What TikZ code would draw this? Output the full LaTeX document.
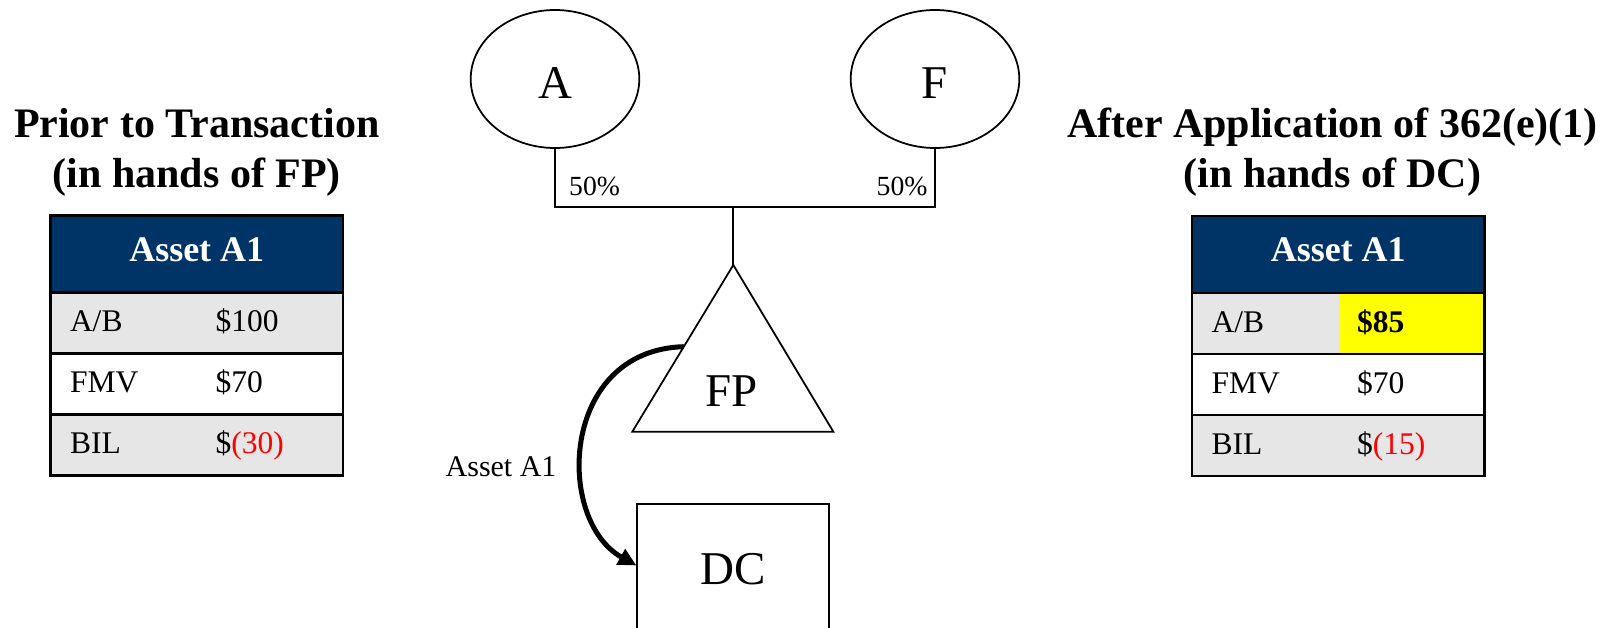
\documentclass[tikz,border=0pt]{standalone}
\usepackage{fontspec}
\setmainfont{Liberation Serif}
\usetikzlibrary{shapes.geometric,arrows.meta,calc}
\definecolor{navy}{RGB}{0,51,102}
\definecolor{rowgray}{RGB}{231,230,230}
\definecolor{hlyellow}{RGB}{255,255,0}
\definecolor{negred}{RGB}{255,0,0}
\begin{document}
\begin{tikzpicture}[x=1pt,y=-1pt,
  heading/.style={font=\fontsize{42}{50}\selectfont\bfseries, align=center, inner sep=0pt},
  entity/.style={draw, line width=1.75pt, ellipse, minimum width=168.6pt, minimum height=138pt, inner sep=0pt, font=\fontsize{47}{56}\selectfont, text height=38.6pt, text depth=0pt},
  bigtext/.style={font=\fontsize{47}{56}\selectfont, inner sep=0pt},
  dcbox/.style={draw, line width=1.75pt, minimum width=192pt, minimum height=129pt, inner sep=0pt, font=\fontsize{47}{56}\selectfont, text height=31.1pt, text depth=0pt},
  own/.style={line width=2pt},
  shapeline/.style={line width=1.75pt, line join=miter},
  pct/.style={font=\fontsize{27.7}{33}\selectfont, inner sep=0pt},
  lbl/.style={font=\fontsize{30}{36}\selectfont, inner sep=0pt},
  flow/.style={line width=5pt, -{Triangle[length=18pt,width=17pt]}},
  hdr/.style={draw, line width=2.5pt, fill=navy, text=white, font=\fontsize{36}{43}\selectfont\bfseries, minimum width=292.5pt, minimum height=77pt, inner sep=0pt, outer sep=0pt, text height=24pt, text depth=10pt, anchor=north west},
  tabrow/.style={draw, line width=2.5pt, minimum width=292.5pt, minimum height=61pt, inner xsep=19.5pt, inner ysep=0pt, outer sep=0pt, text width=253.5pt, align=left, text height=22pt, text depth=5pt, font=\fontsize{31.5}{38}\selectfont, anchor=north west},
  val/.style={font=\fontsize{31.5}{38}\selectfont, inner sep=0pt, anchor=base west},
  hlcell/.style={fill=hlyellow, anchor=north west, minimum width=144.25pt, minimum height=58.5pt, inner xsep=18pt, inner ysep=0pt, outer sep=0pt, text width=108.25pt, align=left, text height=22pt, text depth=5pt, font=\fontsize{31.5}{38}\selectfont\bfseries}
]
\useasboundingbox[fill=white] (0,0) rectangle (1614,627);

% headings
\node[heading] (hL) at (196.75,152.5) {Prior to Transaction\\(in hands of FP)};
\node[heading] (hR) at (1332.5,152.5) {After Application of 362(e)(1)\\(in hands of DC)};

% left table
\node[hdr] (tLh) at (50.5,215.5) {Asset A1};
\node[tabrow, fill=rowgray] (tL1) at (tLh.south west) {A/B};
\node[tabrow, fill=white] (tL2) at (tL1.south west) {FMV};
\node[tabrow, fill=rowgray] (tL3) at (tL2.south west) {BIL};
\node[val] (vL1) at ([xshift=165pt]tL1.base west) {\$100};
\node[val] (vL2) at ([xshift=165pt]tL2.base west) {\$70};
\node[val] (vL3) at ([xshift=165pt]tL3.base west) {\$\textcolor{negred}{(30)}};

% right table
\node[hdr] (tRh) at (1192,216) {Asset A1};
\node[tabrow, fill=rowgray] (tR1) at (tRh.south west) {A/B};
\node[tabrow, fill=white] (tR2) at (tR1.south west) {FMV};
\node[tabrow, fill=rowgray] (tR3) at (tR2.south west) {BIL};
\node[hlcell] (vR1) at ([xshift=147pt,yshift=-1.25pt]tR1.north west) {\$85};
\node[val] (vR2) at ([xshift=165pt]tR2.base west) {\$70};
\node[val] (vR3) at ([xshift=165pt]tR3.base west) {\$\textcolor{negred}{(15)}};

% owners
\node[entity] (A) at (555,79) {A};
\node[entity] (F) at (935,79) {F};
\coordinate (bar) at (733.3,206.7);
\draw[own] (A.south) -- (A.south |- bar) -- (F.south |- bar) -- (F.south);
\node[pct, anchor=base west] (pA) at (569,195) {50\%};
\node[pct, anchor=base east] (pF) at (927.7,195) {50\%};

% FP triangle
\coordinate (FPtop) at (733.3,265);
\coordinate (FPbl) at (632.3,431.7);
\coordinate (FPbr) at (833.3,431.7);
\draw[own] (bar) -- (FPtop);
\draw[shapeline] (FPtop) -- (FPbl) -- (FPbr) -- cycle;
\node[bigtext, anchor=base] (FP) at (731.5,406.7) {FP};

% DC
\node[dcbox] (DC) at (733.3,568.5) {DC};

% transfer arrow
\draw[flow] ($(FPtop)!0.49!(FPbl)$) .. controls (560,350) and (555,520) .. ([yshift=3pt]DC.west);
\node[lbl, anchor=base east] (lblA) at (556.7,476.7) {Asset A1};
\end{tikzpicture}
\end{document}
